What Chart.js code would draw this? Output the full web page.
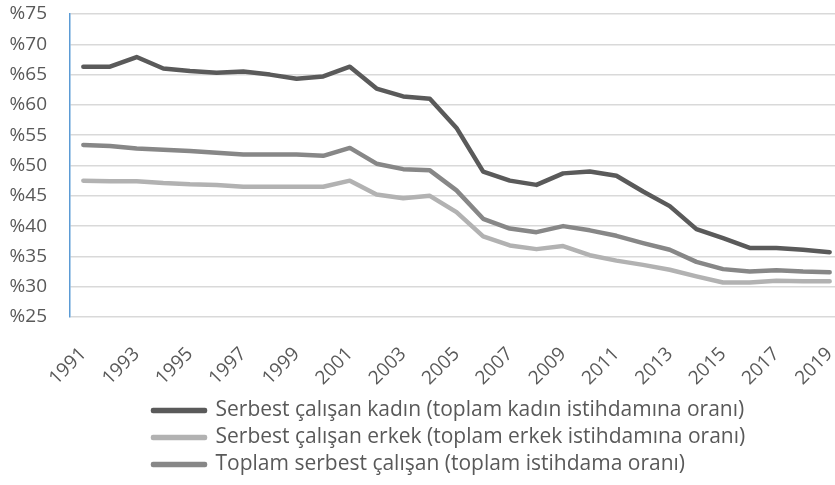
<!DOCTYPE html>
<html>
<head>
<meta charset="utf-8">
<script src="https://cdn.jsdelivr.net/npm/chart.js@4/dist/chart.umd.min.js"></script>
<style>
  html, body { margin: 0; padding: 0; background: #fff; overflow: hidden; }
</style>
</head>
<body>
<canvas id="chart" width="845" height="485"></canvas>
<script>
// years on the x axis
const years = [1991, 1992, 1993, 1994, 1995, 1996, 1997, 1998, 1999, 2000,
  2001, 2002, 2003, 2004, 2005, 2006, 2007, 2008, 2009, 2010,
  2011, 2012, 2013, 2014, 2015, 2016, 2017, 2018, 2019];

// self-employed women (share of total female employment)
const kadin = [66.3, 66.3, 67.9, 66.0, 65.6, 65.3, 65.5, 65.0, 64.3, 64.7,
  66.3, 62.7, 61.4, 61.0, 56.2, 49.0, 47.5, 46.8, 48.7, 49.0,
  48.3, 45.7, 43.3, 39.5, 38.0, 36.4, 36.4, 36.1, 35.7];

// self-employed men (share of total male employment)
const erkek = [47.5, 47.4, 47.4, 47.1, 46.9, 46.8, 46.5, 46.5, 46.5, 46.5,
  47.5, 45.2, 44.6, 45.0, 42.3, 38.3, 36.8, 36.2, 36.7, 35.2,
  34.3, 33.6, 32.8, 31.7, 30.7, 30.7, 31.0, 30.9, 30.9];

// total self-employed (share of total employment)
const toplam = [53.4, 53.2, 52.8, 52.6, 52.4, 52.1, 51.8, 51.8, 51.8, 51.6,
  52.9, 50.3, 49.4, 49.2, 45.9, 41.2, 39.6, 39.0, 40.0, 39.3,
  38.4, 37.2, 36.1, 34.1, 32.9, 32.5, 32.7, 32.5, 32.4];

const seriesNames = [
  "Serbest çalışan kadın (toplam kadın istihdamına oranı)",
  "Serbest çalışan erkek (toplam erkek istihdamına oranı)",
  "Toplam serbest çalışan (toplam istihdama oranı)"
];

const yTicks = [25, 30, 35, 40, 45, 50, 55, 60, 65, 70, 75];

const textColor = "#595959";
const fontFamily = "'Open Sans', 'Liberation Sans', sans-serif";

function line(label, data, color) {
  return {
    label: label,
    data: data,
    borderColor: color,
    backgroundColor: color,
    borderWidth: 4.5,
    pointRadius: 0,
    tension: 0,
    borderCapStyle: "round",
    borderJoinStyle: "round"
  };
}

// legend rows all start from the same left edge
const legendShift = {
  id: "legendShift",
  afterLayout(chart) {
    chart.legend.left = 147;
  }
};

new Chart(document.getElementById("chart"), {
  type: "line",
  data: {
    labels: years.map(String),
    datasets: [
      line(seriesNames[0], kadin, "#5a5a5a"),
      line(seriesNames[1], erkek, "#b2b2b2"),
      line(seriesNames[2], toplam, "#878787")
    ]
  },
  options: {
    responsive: false,
    animation: false,
    layout: { padding: { top: 14, right: 2, left: 0, bottom: 0 } },
    scales: {
      x: {
        offset: true,
        grid: { display: false, drawTicks: false },
        border: { display: false },
        afterFit: s => {
          s.height = 77;
          s.paddingLeft = 0;
          s.paddingRight = 0;
        },
        ticks: {
          autoSkip: false,
          maxRotation: 45,
          minRotation: 45,
          padding: 26,
          color: textColor,
          font: { family: fontFamily, size: 19 },
          callback: function (val, i) {
            return i % 2 === 0 ? this.getLabelForValue(val) : "";
          }
        }
      },
      y: {
        min: 25,
        max: 75,
        afterFit: s => {
          s.width = 70;
          s.paddingTop = 0;
          s.paddingBottom = 0;
        },
        afterBuildTicks: s => { s.ticks = yTicks.map(v => ({ value: v })); },
        grid: { color: "#d9d9d9", lineWidth: 1.5, drawTicks: false },
        border: { display: true, color: "#5b9bd5", width: 1.5 },
        ticks: {
          padding: 23,
          color: textColor,
          font: { family: fontFamily, size: 19 },
          callback: v => "%" + v
        }
      }
    },
    plugins: {
      tooltip: { enabled: false },
      legend: {
        position: "bottom",
        align: "start",
        labels: {
          boxWidth: 52,
          boxHeight: 1,
          padding: 6,
          color: textColor,
          font: { family: fontFamily, size: 21 }
        }
      }
    }
  },
  plugins: [legendShift]
});
</script>
</body>
</html>
